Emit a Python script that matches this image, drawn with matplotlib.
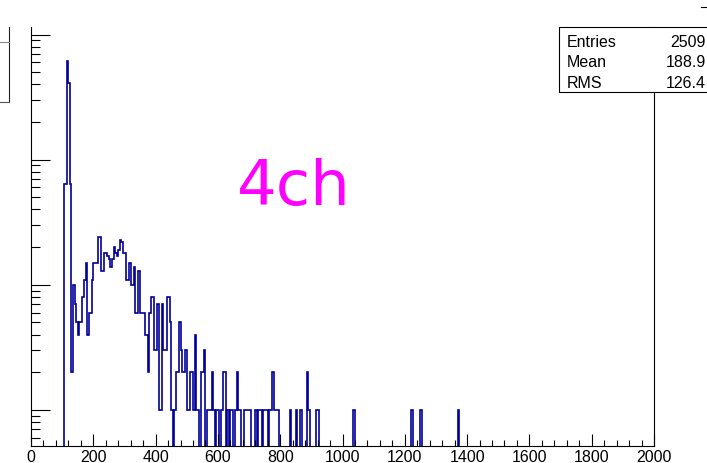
import numpy as np
import matplotlib
matplotlib.use('Agg')
import matplotlib.pyplot as plt
from matplotlib.patches import Rectangle
from matplotlib.lines import Line2D
from matplotlib.ticker import LogLocator, MultipleLocator, NullFormatter

## Data: 5-unit bins, dense part starts at 100
bin_width = 5
dense_start = 100
counts_dense = [
    0, 64, 64, 612, 412, 64, 2, 10, 7, 5,       # 100-145
    4, 5, 5, 8, 11, 15, 4, 6, 6, 11,            # 150-195
    15, 15, 15, 24, 24, 13, 13, 18, 18, 17,     # 200-245
    16, 14, 16, 20, 18, 17, 19, 23, 22, 18,     # 250-295
    18, 11, 11, 15, 10, 10, 14, 6, 6, 13,       # 300-345
    6, 6, 6, 4, 4, 2, 6, 8, 8, 3,               # 350-395
    3, 7, 1, 1, 7, 3, 3, 8, 8, 5,               # 400-445
    1, 0, 1, 2, 2, 5, 3, 2, 2, 3,               # 450-495
    1, 1, 2, 2, 1, 4, 1, 1, 0, 2,               # 500-545
    2, 3, 0, 1, 1, 1, 2, 1, 0, 1,               # 550-595
    1, 0, 1, 2, 2, 0, 1, 0, 1, 1,               # 600-645
    0, 1, 2, 1, 1, 0, 0, 1, 1, 1,               # 650-695
    1, 0, 0, 0, 1, 0, 1, 1, 0, 1,               # 700-745
    1, 1, 0, 1, 1, 2, 1, 1, 1, 0,               # 750-795
    0, 0, 0, 0, 0, 0, 1, 0, 0, 0,               # 800-845
    1, 0, 0, 1, 0, 0, 0, 2, 1, 0,               # 850-895
    0, 0, 0, 1, 1, 0, 0, 0, 0, 0,               # 900-945
]
tail_bins = [1035, 1220, 1250, 1370]
tail_counts = [1, 1, 1, 1]

stat_names = ['Entries', 'Mean', 'RMS']
stat_values = ['2509', '188.9', '126.4']
x_ticks = list(range(0, 2001, 200))
label = '4ch'

# build full histogram 0-2000
edges = np.arange(0, 2000 + bin_width, bin_width)
counts = np.zeros(len(edges) - 1)
i0 = dense_start // bin_width
counts[i0:i0 + len(counts_dense)] = counts_dense
for b, c in zip(tail_bins, tail_counts):
    counts[b // bin_width] = c
# empty bins drop to the bottom of the log axis (like ROOT)
draw_counts = np.where(counts > 0, counts, 1e-3)

W, H = 707, 464
fig = plt.figure(figsize=(W / 100, H / 100), dpi=100)
ax = fig.add_axes([31 / W, (H - 447) / H, (654 - 31) / W, (447 - 28) / H])

ax.stairs(draw_counts, edges, baseline=None, color='#000099', linewidth=1.2)

ax.set_yscale('log')
ax.set_xlim(0, 2000)
ax.set_ylim(0.515, 1150)

ax.xaxis.set_minor_locator(MultipleLocator(40))
ax.set_xticks(x_ticks)
ax.set_xticklabels([str(t) for t in x_ticks], fontsize=11.5, family='Liberation Sans')
ax.yaxis.set_major_locator(LogLocator(base=10, numticks=10))
ax.yaxis.set_minor_locator(LogLocator(base=10, subs=np.arange(2, 10), numticks=20))
ax.yaxis.set_minor_formatter(NullFormatter())

ax.tick_params(axis='x', which='major', direction='in', length=8.6, width=0.8, pad=2.0, top=False)
ax.tick_params(axis='x', which='minor', direction='in', length=4.3, width=0.8, top=False)
ax.tick_params(axis='y', which='major', direction='in', length=13.7, width=0.8, labelleft=False, right=False)
ax.tick_params(axis='y', which='minor', direction='in', length=6.5, width=0.8, right=False)

ax.spines['top'].set_visible(False)
for s in ['left', 'bottom', 'right']:
    ax.spines[s].set_linewidth(0.8)

ax.text(294 / W, (H - 205) / H, label, transform=fig.transFigure, ha='center',
        va='baseline', color='#ff00ff', fontsize=45, family='DejaVu Sans')

# stats box (cut at the right edge)
box = Rectangle((558.5 / W, (H - 93) / H), 200 / W, 65 / H, transform=fig.transFigure,
                facecolor='white', edgecolor='black', linewidth=0.8, zorder=5)
fig.add_artist(box)
for k, (n, v) in enumerate(zip(stat_names, stat_values)):
    yb = [46.7, 67.0, 88.0][k]
    fig.text(566.5 / W, (H - yb) / H, n, ha='left', va='baseline', fontsize=11.5,
             family='Liberation Sans', zorder=6)
    fig.text(706 / W, (H - yb) / H, v, ha='right', va='baseline', fontsize=11.5,
             family='Liberation Sans', zorder=6)

# neighbouring pad pieces at the edges
fig.add_artist(Line2D([8.5 / W, 8.5 / W], [(H - 28) / H, (H - 103) / H], color='#222222', lw=0.8))
fig.add_artist(Line2D([0, 8.5 / W], [(H - 43) / H, (H - 43) / H], color='#888888', lw=0.8))
fig.add_artist(Line2D([0, 8.5 / W], [(H - 103) / H, (H - 103) / H], color='#555555', lw=0.8))
fig.add_artist(Line2D([701 / W, 707 / W], [(H - 7.5) / H, (H - 7.5) / H], color='black', lw=0.8))

fig.savefig('out.png', dpi=100)
